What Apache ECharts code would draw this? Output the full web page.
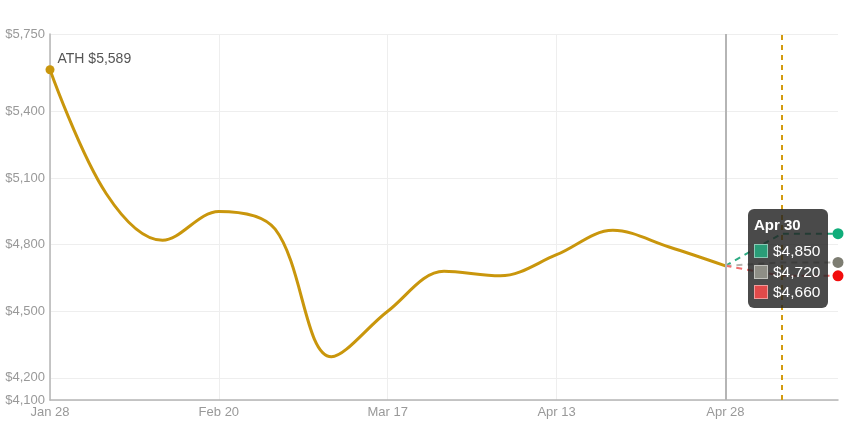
<!DOCTYPE html>
<html>
<head>
<meta charset="utf-8">
<title>Price forecast</title>
<script src="https://cdn.jsdelivr.net/npm/echarts@6/dist/echarts.min.js"></script>
<style>
  html, body { margin: 0; padding: 0; background: #fff; }
  #main { width: 849px; height: 425px; }
</style>
</head>
<body>
<div id="main"></div>
<script>
// categories (only every third one gets a label)
var dates = ['Jan 28', 'Feb 4', 'Feb 12', 'Feb 20', 'Feb 28', 'Mar 8', 'Mar 17',
  'Mar 26', 'Apr 4', 'Apr 13', 'Apr 18', 'Apr 23', 'Apr 28', 'Apr 30', 'May 2'];

// price history up to Apr 28
var priceHistory = [5589, 5030, 4820, 4950, 4870, 4295, 4500, 4680, 4660, 4755, 4865, 4790, 4705];

// forecast scenarios, starting from the last real value
var bullCase = [null, null, null, null, null, null, null, null, null, null, null, null, 4705, 4850, 4850];
var baseCase = [null, null, null, null, null, null, null, null, null, null, null, null, 4705, 4720, 4720];
var bearCase = [null, null, null, null, null, null, null, null, null, null, null, null, 4705, 4660, 4660];

var yTicks = [4100, 4200, 4500, 4800, 5100, 5400, 5750];
var todayLabel = 'Apr 28';
var tipIndex = 13;

var gold = '#c9960c';
var green = '#10ad7a';
var gray = '#7d7d72';
var red = '#f20d0d';

// swatch colours used inside the tooltip
var swatch = { Bull: '#2a9d78', Base: '#8e8e86', Bear: '#e24a4a' };

function money(v) {
  return '$' + Number(v).toLocaleString('en-US');
}

// only the last point of a forecast gets a dot
function withEndDot(arr, color) {
  return arr.map(function (v, i) {
    if (i === arr.length - 1) {
      return { value: v, symbol: 'circle', symbolSize: 11, itemStyle: { color: color } };
    }
    return v;
  });
}

function forecastSeries(name, arr, color, dashColor) {
  return {
    name: name,
    type: 'line',
    data: withEndDot(arr, color),
    symbol: 'none',
    color: color,
    lineStyle: { color: dashColor, width: 2, type: [6, 5] },
    z: 3
  };
}

var historyData = priceHistory.map(function (v, i) {
  if (i === 0) {
    return {
      value: v,
      symbol: 'circle',
      symbolSize: 9,
      label: {
        show: true,
        position: 'right',
        offset: [-2, -11],
        formatter: 'ATH ' + money(v),
        color: '#555',
        fontSize: 14,
        fontFamily: 'Liberation Sans'
      }
    };
  }
  return v;
});

var chart = echarts.init(document.getElementById('main'));

var option = {
  animation: false,
  grid: { left: 50, right: 11, top: 34, bottom: 25, containLabel: false },
  textStyle: { fontFamily: 'Liberation Sans' },
  tooltip: {
    trigger: 'axis',
    alwaysShowContent: true,
    backgroundColor: 'rgba(34,34,34,0.82)',
    borderWidth: 0,
    padding: [6, 8, 5, 6],
    extraCssText: 'border-radius:6px;box-shadow:none;',
    position: function () { return [748, 209]; },
    axisPointer: {
      type: 'line',
      label: { show: false },
      lineStyle: { color: '#d29b0f', width: 2, type: [5, 5] }
    },
    formatter: function (params) {
      var rows = params.filter(function (p) {
        return p.seriesIndex > 0 && p.value != null;
      });
      var html = '<div style="font:bold 15px Liberation Sans;color:#fff;line-height:20px;margin-bottom:6px;">' +
        params[0].axisValue + '</div>';
      rows.forEach(function (p) {
        html += '<div style="font:15.5px Liberation Sans;color:#fff;line-height:20.5px;">' +
          '<span style="display:inline-block;width:12px;height:12px;vertical-align:-2px;margin-right:5px;' +
          'background:' + (swatch[p.seriesName] || p.color) + ';border:1.5px solid rgba(255,255,255,0.45);"></span>' +
          money(p.value) + '</div>';
      });
      return html;
    }
  },
  xAxis: {
    type: 'category',
    data: dates,
    boundaryGap: false,
    axisLine: { lineStyle: { color: '#b5b5b5', width: 1.5 } },
    axisTick: { show: false },
    axisLabel: { interval: 2, color: '#999', fontSize: 13, margin: 6 },
    splitLine: { show: true, interval: 2, lineStyle: { color: '#eee' } }
  },
  yAxis: {
    type: 'value',
    min: 4100,
    max: 5750,
    axisLine: { show: true, lineStyle: { color: '#b5b5b5', width: 1.5 } },
    axisTick: { show: false, customValues: yTicks },
    axisLabel: {
      customValues: yTicks,
      color: '#999',
      fontSize: 13,
      margin: 5,
      formatter: money
    },
    splitLine: { show: true, lineStyle: { color: '#eee' } }
  },
  series: [
    {
      name: 'Price',
      type: 'line',
      data: historyData,
      symbol: 'none',
      smooth: 0.35,
      color: gold,
      lineStyle: { color: gold, width: 3 },
      z: 4,
      markLine: {
        silent: true,
        symbol: 'none',
        label: { show: false },
        lineStyle: { color: '#b5b5b5', width: 2, type: 'solid' },
        data: [{ xAxis: todayLabel }]
      }
    },
    forecastSeries('Bull', bullCase, green, '#2a9d78'),
    forecastSeries('Base', baseCase, gray, '#a5a5a0'),
    forecastSeries('Bear', bearCase, red, '#dc6464')
  ]
};

chart.setOption(option);
chart.dispatchAction({ type: 'showTip', seriesIndex: 1, dataIndex: tipIndex });
</script>
</body>
</html>
